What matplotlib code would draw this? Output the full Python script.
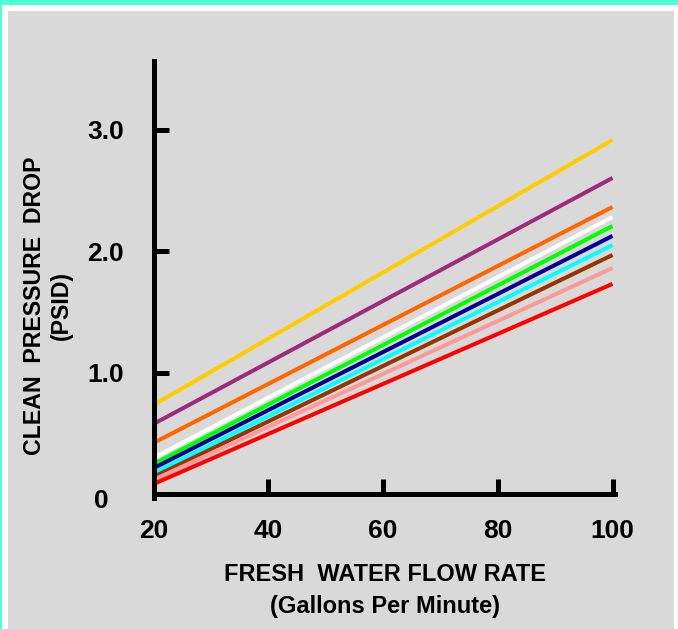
import matplotlib
matplotlib.use('Agg')
import matplotlib.pyplot as plt
from matplotlib.patches import Rectangle

plt.rcParams['font.family'] = ['Liberation Sans', 'DejaVu Sans']
plt.rcParams['font.weight'] = 'bold'

# data: one straight line per element size
flow_gpm = [20, 100]
line_colors = ['#FFCC00', '#9E2A7B', '#FF6600', '#FFFFFF', '#00FF00',
               '#000099', '#00FFFF', '#993300', '#FF9999', '#FF0000']
drop_at_20 = [0.737, 0.58, 0.424, 0.30, 0.25, 0.216, 0.175, 0.144, 0.12, 0.086]
drop_at_100 = [2.918, 2.605, 2.366, 2.284, 2.21, 2.128, 2.053, 1.971, 1.864, 1.733]

x_ticks = [20, 40, 60, 80, 100]
x_tick_labels = ['20', '40', '60', '80', '100']
y_ticks = [1, 2, 3]
y_tick_labels = ['1.0', '2.0', '3.0']

W, H = 678, 629
fig = plt.figure(figsize=(W / 100, H / 100), dpi=100)
fig.patch.set_facecolor('#4DFFD4')

# white rim + grey panel
fig.add_artist(Rectangle((2 / W, 0), 1, (H - 5) / H, transform=fig.transFigure,
                         facecolor='white', edgecolor='none', zorder=-10))
fig.add_artist(Rectangle((8 / W, 0), (674 - 8) / W, (H - 11) / H, transform=fig.transFigure,
                         facecolor='#D9D9D9', edgecolor='none', zorder=-9))

ax = fig.add_axes([153.5 / W, (H - 497.5) / H, 461.3 / W, 436.8 / H])
ax.set_facecolor('none')

for c, a, b in zip(line_colors, drop_at_20, drop_at_100):
    ax.plot(flow_gpm, [a, b], color=c, lw=2.9, solid_capstyle='butt')

ax.set_xlim(20, 100.4)
ax.set_ylim(-0.025, 3.57)

for s in ['top', 'right']:
    ax.spines[s].set_visible(False)
for s in ['left', 'bottom']:
    ax.spines[s].set_linewidth(3.6)
    ax.spines[s].set_color('black')
ax.spines['bottom'].set_position(('data', 0))

ax.set_xticks(x_ticks, x_tick_labels)
ax.set_yticks(y_ticks, y_tick_labels)
ax.tick_params(axis='both', direction='in', length=10.8, width=3.6,
               labelsize=19, colors='black')
ax.tick_params(axis='x', pad=18)
ax.tick_params(axis='y', pad=21.5)
for lbl in ax.get_xticklabels() + ax.get_yticklabels():
    lbl.set_fontweight('bold')

# the zero sits a bit apart from the other y labels
ax.text(-0.114, -0.05, '0', transform=ax.get_yaxis_transform(),
        ha='center', va='center', fontsize=19, fontweight='bold')

ax.set_xlabel('FRESH  WATER FLOW RATE\n(Gallons Per Minute)', fontsize=17,
              fontweight='bold', linespacing=1.5, va='center')
ax.xaxis.set_label_coords(0.502, -0.212)
ax.set_ylabel('CLEAN  PRESSURE  DROP\n(PSID)', fontsize=16.7,
              fontweight='bold', linespacing=1.25, va='center')
ax.yaxis.set_label_coords(-0.229, 0.44)

fig.savefig('out.png', dpi=100, facecolor=fig.get_facecolor())
